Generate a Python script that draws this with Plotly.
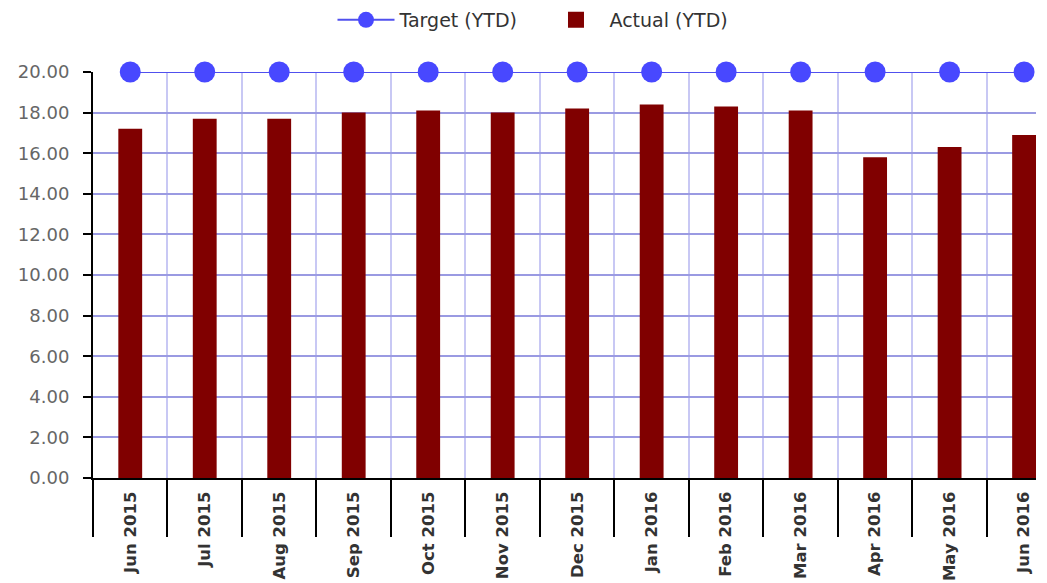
import plotly.graph_objects as go

months = ["Jun 2015", "Jul 2015", "Aug 2015", "Sep 2015", "Oct 2015", "Nov 2015",
          "Dec 2015", "Jan 2016", "Feb 2016", "Mar 2016", "Apr 2016", "May 2016", "Jun 2016"]
target_ytd = [20.0] * 13
actual_ytd = [17.2, 17.7, 17.7, 18.0, 18.1, 18.0, 18.2, 18.4, 18.3, 18.1, 15.8, 16.3, 16.9]
y_ticks = [0, 2, 4, 6, 8, 10, 12, 14, 16, 18, 20]

xpos = list(range(len(months)))
boundaries = [i - 0.5 for i in xpos]

FONT = "DejaVu Sans, Verdana, sans-serif"
BAR_COLOR = "#800000"

fig = go.Figure()
fig.add_trace(go.Scatter(
    x=xpos, y=target_ytd, name="Target (YTD)", mode="lines+markers",
    line=dict(color="#5050ee", width=2),
    marker=dict(color="#4848ff", size=21, symbol="circle"),
    cliponaxis=False,
))
fig.add_trace(go.Bar(
    x=xpos, y=actual_ytd, name="Actual (YTD)", width=0.32,
    marker=dict(color=BAR_COLOR, line=dict(width=0)),
    showlegend=False, legendgroup="actual",
))
# legend entry for the bars with a larger square swatch
fig.add_trace(go.Scatter(
    x=[None], y=[None], name="Actual (YTD)", mode="markers",
    marker=dict(color=BAR_COLOR, size=20, symbol="square"),
    legendgroup="actual",
))

fig.update_layout(
    width=1047, height=583,
    margin=dict(l=85, r=19, t=64, b=113),
    plot_bgcolor="white", paper_bgcolor="white",
    font=dict(family=FONT, color="#333"),
    showlegend=True,
    legend=dict(orientation="h", x=0.5105, xanchor="center", xref="container",
                y=1 - 12 / 583, yref="container", yanchor="middle",
                font=dict(size=19, color="#333", family=FONT), itemwidth=57,
                entrywidth=138, traceorder="normal", itemsizing="trace"),
)
fig.update_xaxes(
    range=[-0.5, 12.16], automargin=False,
    tickmode="array", tickvals=xpos, ticktext=months,
    ticks="", tickangle=-90,
    tickfont=dict(size=16.5, color="#333", family=FONT, weight="bold"),
    ticklabelstandoff=5,
    showline=True, linecolor="black", linewidth=2,
    showgrid=False, zeroline=False,
    minor=dict(tickmode="array", tickvals=boundaries, ticks="outside", ticklen=57,
               tickcolor="black", tickwidth=2, showgrid=True, gridcolor="#c8c8f4", gridwidth=1.5),
)
fig.update_yaxes(
    range=[0, 20], tickmode="array", tickvals=y_ticks, tickformat=".2f", automargin=False,
    ticks="outside", ticklen=8, tickcolor="black", tickwidth=2,
    tickfont=dict(size=18, color="#666", family=FONT),
    ticklabelstandoff=10,
    showline=True, linecolor="black", linewidth=2,
    showgrid=True, gridcolor="#9a9ae2", gridwidth=1.5, zeroline=False,
)

fig.write_html("out.html")
